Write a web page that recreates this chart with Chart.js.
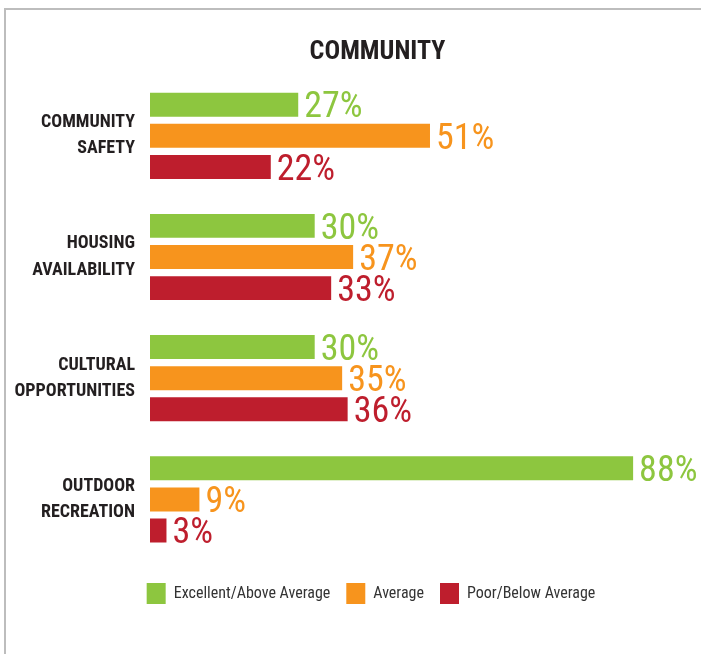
<!DOCTYPE html>
<html>
<head>
<meta charset="utf-8">
<script src="https://cdn.jsdelivr.net/npm/chart.js@4/dist/chart.umd.min.js"></script>
<style>
  body { margin: 0; background: #fff; }
  #wrap { position: relative; width: 701px; height: 654px; overflow: hidden; }
  #frame { position: absolute; left: 4px; top: 8px; width: 720px; height: 680px;
           border-left: 2px solid #bdbdbd; border-top: 2px solid #bdbdbd; }
  #chart { position: absolute; left: 0; top: 0; }
</style>
</head>
<body>
<div id="wrap">
  <div id="frame"></div>
  <canvas id="chart" width="701" height="654"></canvas>
</div>
<script>
// --- survey data -------------------------------------------------------
var categories = [
    ["COMMUNITY", "SAFETY"],
    ["HOUSING", "AVAILABILITY"],
    ["CULTURAL", "OPPORTUNITIES"],
    ["OUTDOOR", "RECREATION"]
];
var seriesNames = ["Excellent/Above Average", "Average", "Poor/Below Average"];
var excellent = [27, 30, 30, 88];
var average   = [51, 37, 35, 9];
var poor      = [22, 33, 36, 3];

var GREEN = "#8dc63f";
var ORANGE = "#f7941d";
var RED = "#be1e2d";
var NARROW = "'Roboto Condensed', 'DejaVu Sans Condensed', sans-serif";

// draws "NN%" right after the end of each bar, in the bar colour
var valueLabels = {
    id: "valueLabels",
    afterDatasetsDraw: function(chart) {
        var ctx = chart.ctx;
        var size = 36;
        ctx.save();
        ctx.font = "normal " + size + "px " + NARROW;
        ctx.textAlign = "left";
        ctx.textBaseline = "alphabetic";
        chart.data.datasets.forEach(function(ds, i) {
            var meta = chart.getDatasetMeta(i);
            meta.data.forEach(function(bar, j) {
                ctx.fillStyle = ds.backgroundColor;
                ctx.fillText(ds.data[j] + "%", bar.x + 6, bar.y + size * 0.711 / 2);
            });
        });
        ctx.restore();
    }
};

// title and legend sit centred over the bars, not the whole canvas;
// legend also drops a little below its fitted box
var shiftBlocks = {
    id: "shiftBlocks",
    afterLayout: function(chart) {
        chart.titleBlock.left += 56;
        chart.legend.left += 43;
        chart.legend.top += 7;
    }
};

new Chart(document.getElementById("chart"), {
    type: "bar",
    data: {
        labels: categories,
        datasets: [
            {label: seriesNames[0], data: excellent, backgroundColor: GREEN},
            {label: seriesNames[1], data: average, backgroundColor: ORANGE},
            {label: seriesNames[2], data: poor, backgroundColor: RED}
        ]
    },
    options: {
        indexAxis: "y",
        responsive: false,
        animation: false,
        categoryPercentage: 0.77,
        barPercentage: 0.77,
        layout: {padding: {left: 0, right: 2, top: 0, bottom: 47}},
        scales: {
            x: {display: false, min: 0, max: 100},
            y: {
                grid: {display: false, drawTicks: false},
                border: {display: false},
                ticks: {
                    padding: 15,
                    color: "#231f20",
                    font: {family: NARROW, size: 18, weight: "bold", lineHeight: 1.45}
                },
                afterFit: function(scale) { scale.width = 150; }
            }
        },
        plugins: {
            title: {
                display: true,
                text: "COMMUNITY",
                color: "#231f20",
                font: {family: NARROW, size: 26, weight: "bold", lineHeight: 1.2},
                padding: {top: 37, bottom: 7}
            },
            legend: {
                position: "bottom",
                labels: {
                    boxWidth: 19,
                    boxHeight: 21,
                    padding: 16,
                    color: "#333333",
                    font: {family: NARROW, size: 16}
                }
            },
            tooltip: {enabled: false}
        }
    },
    plugins: [valueLabels, shiftBlocks]
});
</script>
</body>
</html>
